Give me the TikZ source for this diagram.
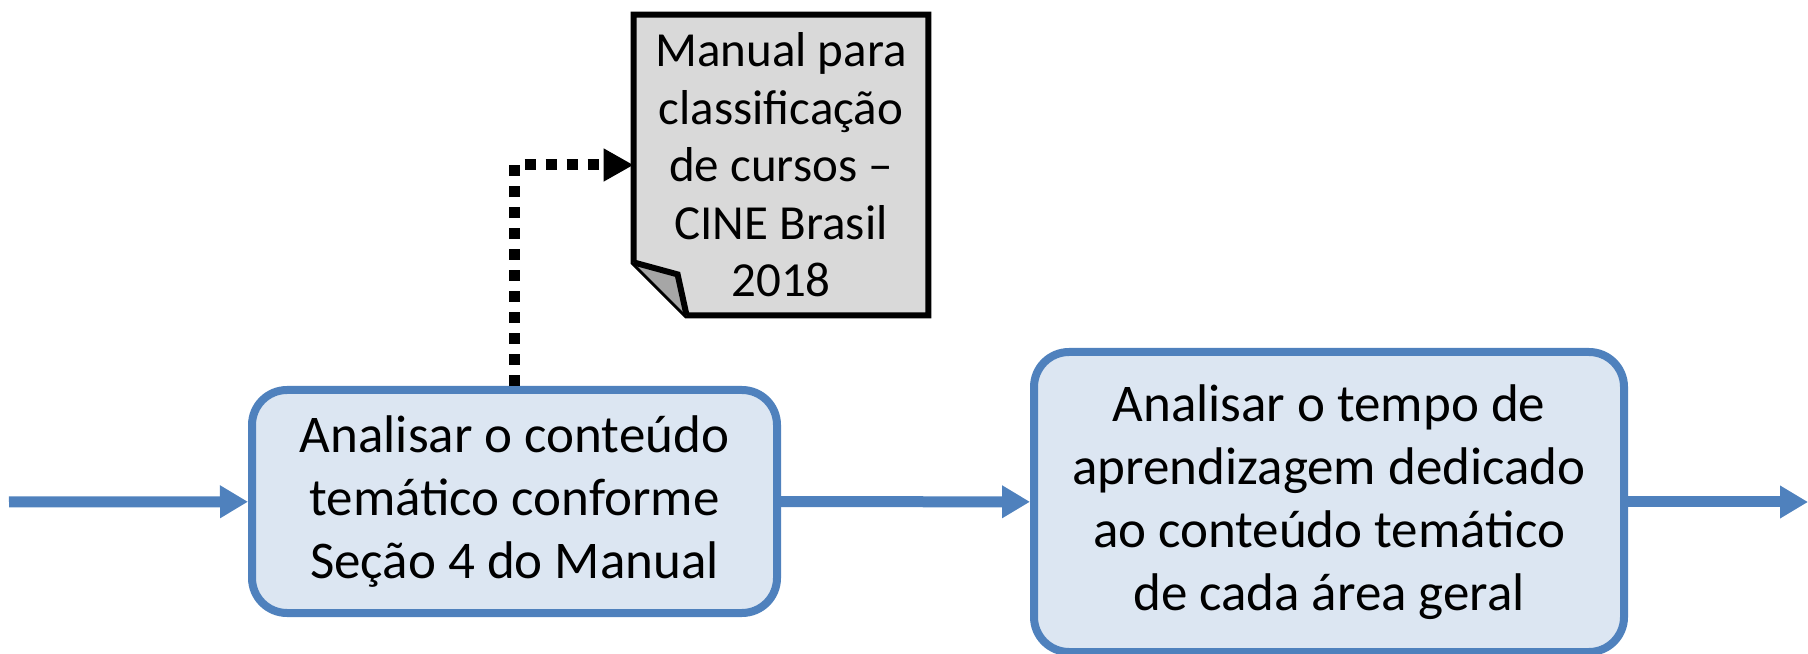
\documentclass[tikz,border=0pt]{standalone}
\usepackage{fontspec}
\setmainfont{Carlito}
\usepackage{tikz}
\usetikzlibrary{calc}
\usetikzlibrary{arrows.meta}
\definecolor{boxfill}{HTML}{DCE6F2}
\definecolor{boxline}{HTML}{4F81BD}
\definecolor{docfill}{HTML}{D9D9D9}
\definecolor{foldfill}{HTML}{A6A6A6}

\begin{document}
\begin{tikzpicture}[x=0.5pt,y=0.5pt]
	 \tikzstyle{process}=[rectangle,rounded corners=17.5pt,draw=boxline,fill=boxfill,line width=4pt,align=center,font=\fontsize{26.5}{31.5}\selectfont]
	 \tikzstyle{flow} = [draw,line width=5.5pt,boxline,-{Triangle[length=14pt,width=15.5pt]}]
	 \tikzstyle{ref} = [draw,line width=5.5pt,black,dash pattern=on 5.5pt off 5pt,-{Triangle[length=15pt,width=15.5pt]}]
	 \tikzstyle{docline} = [line width=3pt,black,line join=miter]
	 \useasboundingbox (0,0) rectangle (1808,653);
	 \coordinate (in) at (9,151);
	 \coordinate (out) at (1808,151);
	 \node[process,minimum width=262.5pt,minimum height=111.5pt] (p1) at (514.5,151.5) {Analisar o conteúdo\\temático conforme\\Seção 4 do Manual};
	 \node[process,minimum width=295pt,minimum height=150pt] (p2) at (1329,151) {Analisar o tempo de\\aprendizagem dedicado\\ao conteúdo temático\\de cada área geral};
	 \node[rectangle,minimum width=147pt,minimum height=150pt] (doc) at (781,488) {};
	 \draw[docline,fill=docfill] (doc.north west) -- (doc.north east) -- (doc.south east)
	   -- ($(doc.south west)+(53,0)$) -- ($(doc.south west)+(0,53)$) -- cycle;
	 \draw[docline,fill=foldfill] ($(doc.south west)+(0,53)$) -- ($(doc.south west)+(44,41)$) -- ($(doc.south west)+(53,0)$);
	 \node[align=center,font=\fontsize{24.5}{28.75}\selectfont] (doctext) at (doc.center) {Manual para\\classificação\\de cursos --\\CINE Brasil\\2018};
	 \draw[flow] (in) -- (p1);
	 \draw[flow] (p1) -- (p2);
	 \draw[flow] (p2) -- (out);
	 \draw[ref] (p1.north) |- (doc.west);
 \end{tikzpicture}
\end{document}
